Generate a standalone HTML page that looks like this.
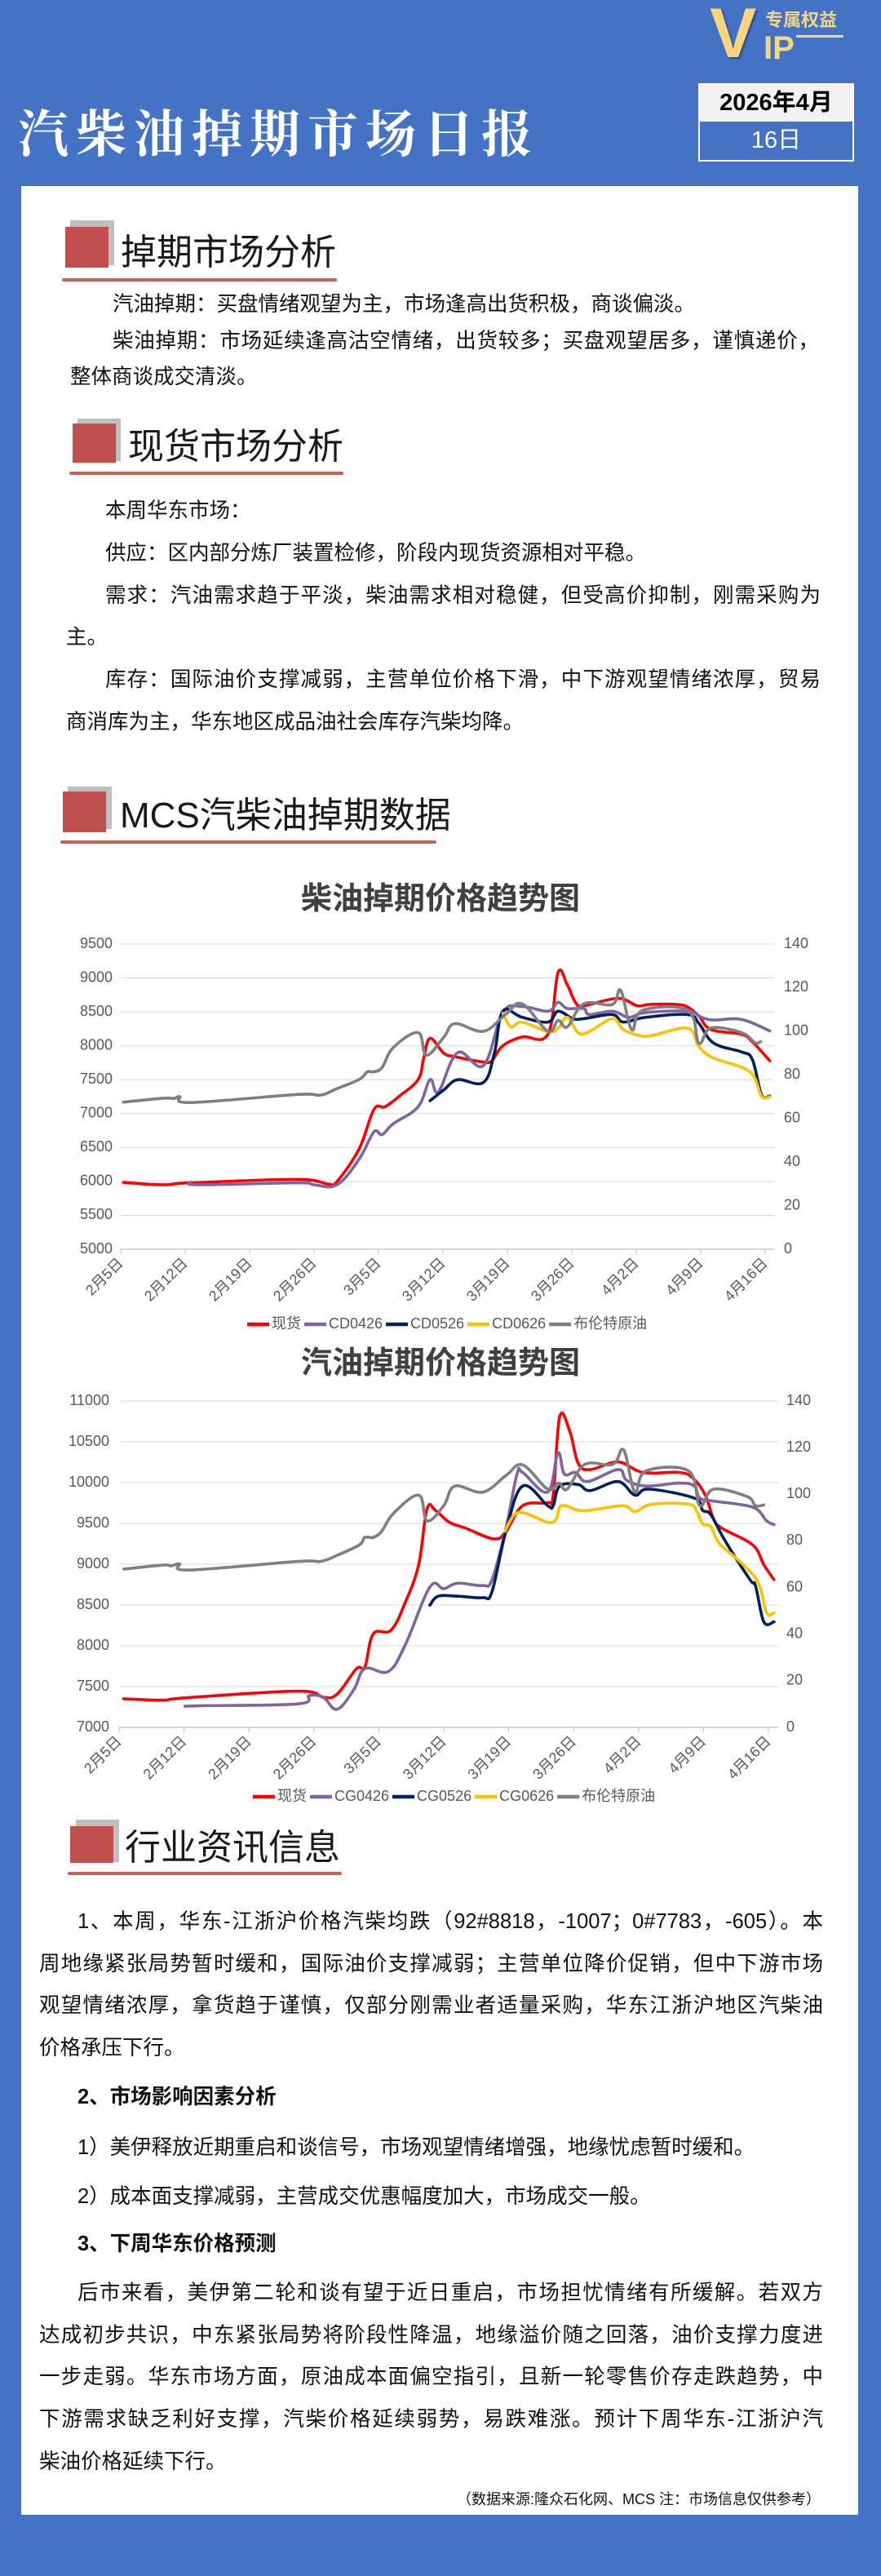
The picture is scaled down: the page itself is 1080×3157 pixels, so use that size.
<!DOCTYPE html>
<html lang="zh">
<head>
<meta charset="utf-8">
<style>
*{margin:0;padding:0;box-sizing:border-box}
body{width:1080px;height:3157px;background:#4472c4;position:relative;overflow:hidden;font-family:"Liberation Sans","Noto Sans CJK SC",sans-serif;color:#111}
.abs{position:absolute}
.panel{left:26px;top:228px;width:1026px;height:2854px;background:#fff}
.ln{position:absolute;font-size:25.5px;line-height:30px;white-space:nowrap;color:#111}
.jl{text-align:justify;text-align-last:justify}
.sqg{position:absolute;background:#bfbfbf}
.sqr{position:absolute;background:#c0504d}
.ul{position:absolute;height:4px;background:#c9605c;border-radius:2px}
.st{position:absolute;font-size:44px;line-height:50px;color:#1a1a1a;white-space:nowrap}
svg text{font-family:"Liberation Sans","Noto Sans CJK SC",sans-serif}
</style>
</head>
<body>
<div class="abs panel"></div>

<!-- header -->
<div class="abs" style="left:22px;top:130px;font-family:'Liberation Serif','Noto Serif CJK SC',serif;font-size:62px;line-height:72px;color:#fff;letter-spacing:9px;font-weight:bold;white-space:nowrap">汽柴油掉期市场日报</div>
<div class="abs" style="left:866px;top:4px;width:180px;height:80px">
  <div class="abs" style="left:4px;top:-6px;font-size:86px;line-height:86px;font-weight:bold;color:#f7d57e;font-family:'Liberation Sans',sans-serif;text-shadow:2px 2px 2px #2a4a8a">V</div>
  <div class="abs" style="left:72px;top:8px;font-size:22px;line-height:26px;font-weight:bold;color:#f7d57e;white-space:nowrap;font-family:'Liberation Sans','Noto Sans CJK SC',sans-serif">专属权益</div>
  <div class="abs" style="left:70px;top:34px;font-size:40px;line-height:42px;font-weight:bold;color:#f7d57e;font-family:'Liberation Sans',sans-serif">IP</div>
  <div class="abs" style="left:110px;top:39px;width:58px;height:3px;background:#f7d57e"></div>
</div>
<div class="abs" style="left:856px;top:102px;width:191px;height:96px;border:2px solid #fff">
  <div class="abs" style="left:0;top:0;width:187px;height:45px;background:#f2f2f2;text-align:center;font-size:29px;line-height:45px;font-weight:bold;color:#000">2026年4月</div>
  <div class="abs" style="left:0;top:45px;width:187px;height:47px;background:#4472c4;text-align:center;font-size:29px;line-height:47px;color:#fff">16日</div>
</div>

<!-- section 1 -->
<div class="sqg" style="left:86px;top:270px;width:54px;height:55px"></div>
<div class="sqr" style="left:80px;top:278px;width:53px;height:50px"></div>
<div class="st" style="left:148px;top:285px">掉期市场分析</div>
<div class="ul" style="left:76px;top:341px;width:337px"></div>
<div class="ln" style="left:138px;top:358px">汽油掉期：买盘情绪观望为主，市场逢高出货积极，商谈偏淡。</div>
<div class="ln jl" style="left:138px;top:403px;width:866px">柴油掉期：市场延续逢高沽空情绪，出货较多；买盘观望居多，谨慎递价，</div>
<div class="ln" style="left:86px;top:447px">整体商谈成交清淡。</div>

<!-- section 2 -->
<div class="sqg" style="left:95px;top:513px;width:53px;height:52px"></div>
<div class="sqr" style="left:89px;top:519px;width:53px;height:48px"></div>
<div class="st" style="left:157px;top:523px">现货市场分析</div>
<div class="ul" style="left:85px;top:578px;width:336px"></div>
<div class="ln" style="left:129px;top:611px">本周华东市场：</div>
<div class="ln" style="left:129px;top:663px">供应：区内部分炼厂装置检修，阶段内现货资源相对平稳。</div>
<div class="ln jl" style="left:129px;top:715px;width:877px">需求：汽油需求趋于平淡，柴油需求相对稳健，但受高价抑制，刚需采购为</div>
<div class="ln" style="left:81px;top:766px">主。</div>
<div class="ln jl" style="left:129px;top:818px;width:877px">库存：国际油价支撑减弱，主营单位价格下滑，中下游观望情绪浓厚，贸易</div>
<div class="ln" style="left:81px;top:870px">商消库为主，华东地区成品油社会库存汽柴均降。</div>

<!-- section 3 -->
<div class="sqg" style="left:83px;top:964px;width:54px;height:52px"></div>
<div class="sqr" style="left:77px;top:970px;width:53px;height:50px"></div>
<div class="st" style="left:147px;top:975px">MCS汽柴油掉期数据</div>
<div class="ul" style="left:74px;top:1030px;width:461px"></div>

<svg id="chart1" class="abs" style="left:0;top:1060px" width="1080" height="580"></svg>
<svg id="chart2" class="abs" style="left:0;top:1640px" width="1080" height="580"></svg>

<!-- section 4 -->
<div class="sqg" style="left:93px;top:2230px;width:53px;height:52px"></div>
<div class="sqr" style="left:86px;top:2238px;width:53px;height:45px"></div>
<div class="st" style="left:153px;top:2240px">行业资讯信息</div>
<div class="ul" style="left:83px;top:2294px;width:336px"></div>
<div class="ln jl" style="left:95px;top:2340px;width:914px">1、本周，华东-江浙沪价格汽柴均跌（92#8818，-1007；0#7783，-605）。本</div>
<div class="ln jl" style="left:48px;top:2392px;width:961px">周地缘紧张局势暂时缓和，国际油价支撑减弱；主营单位降价促销，但中下游市场</div>
<div class="ln jl" style="left:48px;top:2443px;width:961px">观望情绪浓厚，拿货趋于谨慎，仅部分刚需业者适量采购，华东江浙沪地区汽柴油</div>
<div class="ln" style="left:48px;top:2495px">价格承压下行。</div>
<div class="ln" style="left:95px;top:2555px;font-weight:bold">2、市场影响因素分析</div>
<div class="ln" style="left:95px;top:2617px">1）美伊释放近期重启和谈信号，市场观望情绪增强，地缘忧虑暂时缓和。</div>
<div class="ln" style="left:95px;top:2677px">2）成本面支撑减弱，主营成交优惠幅度加大，市场成交一般。</div>
<div class="ln" style="left:95px;top:2735px;font-weight:bold">3、下周华东价格预测</div>
<div class="ln jl" style="left:95px;top:2795px;width:914px">后市来看，美伊第二轮和谈有望于近日重启，市场担忧情绪有所缓解。若双方</div>
<div class="ln jl" style="left:48px;top:2847px;width:961px">达成初步共识，中东紧张局势将阶段性降温，地缘溢价随之回落，油价支撑力度进</div>
<div class="ln jl" style="left:48px;top:2898px;width:961px">一步走弱。华东市场方面，原油成本面偏空指引，且新一轮零售价存走跌趋势，中</div>
<div class="ln jl" style="left:48px;top:2950px;width:961px">下游需求缺乏利好支撑，汽柴价格延续弱势，易跌难涨。预计下周华东-江浙沪汽</div>
<div class="ln" style="left:48px;top:3002px">柴油价格延续下行。</div>
<div class="ln" style="left:560px;top:3051px;width:446px;text-align:right;font-size:18px;line-height:24px">（数据来源:隆众石化网、MCS 注：市场信息仅供参考）</div>

<script>
// ---------- data: x-axis ----------
const tickLabels = ["2月5日","2月12日","2月19日","2月26日","3月5日","3月12日","3月19日","3月26日","4月2日","4月9日","4月16日"];
const tickDays = [0,7,14,21,28,35,42,49,56,63,70];

// ---------- diesel chart data ----------
const dLeftTicks = [5000,5500,6000,6500,7000,7500,8000,8500,9000,9500];
const dRightTicks = [0,20,40,60,80,100,120,140];
const dSeriesNames = ["现货","CD0426","CD0526","CD0626","布伦特原油"];
const dSpotDays = [0.3,4.6,7.6,19.2,22.6,23.5,25.9,27.5,28.7,30.2,32.3,32.9,33.6,35.1,36.3,39.4,40.3,41.5,43.6,46.4,47.5,48.5,49.4,50.3,54.0,56.1,57.4,60.4,61.6,62.8,64.1,67.4,68.6,70.5];
const dSpotVals = [5985,5950,5980,6030,5960,6000,6480,7060,7100,7250,7500,7810,8110,7890,7840,7760,7780,8000,8130,8170,9080,8900,8640,8590,8700,8590,8610,8610,8570,8440,8240,8170,8060,7780];
const d0426Days = [7.6,8.5,19.2,21.0,23.5,25.9,27.5,28.4,29.6,32.3,33.6,34.5,36.6,39.4,41.5,43.6,46.4,47.5,48.5,50.3,50.9,53.4,55.2,57.0,61.6,63.1,64.4,67.4,70.5];
const d0426Vals = [5990,5950,5980,5950,5950,6330,6730,6690,6850,7100,7500,7320,7900,7710,8490,8580,8510,8640,8550,8550,8460,8510,8420,8490,8510,8420,8380,8390,8220];
const d0526Days = [33.6,35.1,36.6,39.4,40.6,41.5,43.6,46.4,47.5,49.1,50.3,53.4,54.6,57.0,61.6,62.8,64.4,67.4,68.6,69.6,70.5];
const d0526Vals = [7190,7350,7500,7460,7900,8510,8420,8350,8510,8400,8400,8460,8350,8420,8460,8330,8040,7910,7800,7280,7260];
const d0626Days = [41.5,42.4,43.6,46.4,47.5,48.5,49.7,50.9,53.4,54.6,56.4,57.7,61.6,62.8,64.4,68.3,69.6,70.5];
const d0626Vals = [8480,8280,8350,8210,8260,8420,8190,8210,8400,8240,8150,8150,8260,7990,7820,7620,7260,7250];
const dBrentDays = [0.3,4.6,5.8,6.4,7.6,19.2,21.7,23.5,25.9,26.8,27.5,28.4,29.6,32.3,33.2,35.1,36.3,39.4,41.8,43.6,46.4,47.5,48.5,50.3,53.4,54.3,55.5,56.7,61.6,62.8,64.1,67.4,68.9,69.5];
const dBrentVals = [67.5,69.3,69.2,70,67.3,71,70.7,73.7,77.9,81.4,81.4,83.4,92.5,99.4,89,97.3,103.5,100,107.7,112.6,100,105,102,112.6,112.3,118.8,100.7,109.6,109.6,94.5,101.5,99.4,94.8,95.2];

// ---------- gasoline chart data ----------
const gLeftTicks = [7000,7500,8000,8500,9000,9500,10000,10500,11000];
const gRightTicks = [0,20,40,60,80,100,120,140];
const gSeriesNames = ["现货","CG0426","CG0526","CG0626","布伦特原油"];
const gSpotDays = [0.5,4.7,7.1,19.3,22.0,23.5,25.6,26.5,27.4,29.3,30.8,32.3,33.2,34.1,35.6,37.4,40.4,41.7,43.5,46.2,46.8,47.5,48.6,49.5,50.8,53.8,56.5,60.4,61.9,63.2,64.1,65.0,68.3,69.5,70.6];
const gSpotVals = [7351,7333,7362,7444,7370,7407,7720,7740,8146,8190,8516,8996,9680,9660,9514,9440,9310,9400,9717,9754,9846,10808,10623,10235,10160,10253,10124,10124,10050,9846,9550,9440,9237,8996,8811];
const g0426Days = [7.1,9.0,19.3,20.5,22.0,23.5,25.3,26.5,29.0,30.8,33.5,35.0,36.5,39.2,40.2,41.7,42.9,43.5,46.2,47.3,48.0,49.2,50.5,53.8,54.7,56.8,60.4,62.0,62.6,64.1,68.3,69.8,70.6];
const g0426Vals = [7259,7266,7288,7388,7370,7222,7462,7721,7684,7998,8719,8700,8767,8738,8811,9440,10105,10124,9884,10364,10105,10124,10013,10161,10031,9958,9994,9958,9810,9773,9699,9532,9484];
const g0526Days = [33.5,34.4,36.5,39.2,40.2,41.7,43.5,46.2,46.8,47.5,49.5,50.8,53.8,55.6,57.1,62.0,62.9,63.8,65.3,68.0,68.6,69.5,70.6];
const g0526Vals = [8497,8608,8608,8590,8663,9403,9958,9717,9717,9958,9976,9902,10013,9846,9920,9810,9662,9606,9292,8811,8737,8294,8294];
const g0626Days = [41.6,42.6,43.8,46.2,47.1,47.7,49.5,50.8,54.4,55.6,57.4,61.4,62.3,62.9,63.8,64.7,67.1,68.9,69.8,70.6];
const g0626Vals = [9403,9606,9625,9514,9551,9717,9662,9662,9717,9643,9735,9735,9643,9495,9459,9255,9015,8774,8405,8405];
const gBrentDays = [0.5,4.7,5.6,6.5,7.5,19.3,21.7,23.5,25.9,26.5,27.4,28.3,29.6,32.3,33.2,35.0,36.2,39.2,41.7,43.5,46.2,47.4,48.3,50.2,53.2,54.4,55.6,56.8,61.4,62.6,64.1,67.7,68.6,69.5];
const gBrentVals = [67.9,69.6,69.3,70.1,67.5,71.2,71.2,73.8,78.3,81.5,81.5,84.1,91.9,99.6,88.6,95.1,103.5,100.9,108,112.6,102.2,104.8,102.2,112.8,112.8,119,100.9,110,110,95.1,102.2,99,95.1,95.4];

const NS = "http://www.w3.org/2000/svg";
const COLORS = ["#ff0000","#8064a2","#002060","#ffc000","#7f7f7f"];

function mk(svg, tag, attrs, txt){
  const e = document.createElementNS(NS, tag);
  for (const k in attrs) e.setAttribute(k, attrs[k]);
  if (txt !== undefined) e.textContent = txt;
  svg.appendChild(e);
  return e;
}

function smoothPath(pts){
  if (pts.length < 2) return "";
  let d = "M" + pts[0][0].toFixed(1) + "," + pts[0][1].toFixed(1);
  for (let i = 0; i < pts.length - 1; i++){
    const p0 = pts[i-1] || pts[i], p1 = pts[i], p2 = pts[i+1], p3 = pts[i+2] || p2;
    const t = 0.18;
    const c1x = p1[0] + (p2[0]-p0[0])*t, c1y = p1[1] + (p2[1]-p0[1])*t;
    const c2x = p2[0] - (p3[0]-p1[0])*t, c2y = p2[1] - (p3[1]-p1[1])*t;
    d += " C" + c1x.toFixed(1)+","+c1y.toFixed(1)+" "+c2x.toFixed(1)+","+c2y.toFixed(1)+" "+p2[0].toFixed(1)+","+p2[1].toFixed(1);
  }
  return d;
}

function drawChart(svg, cfg){
  const xS = d => cfg.x0 + (cfg.x1 - cfg.x0) * d / 70;
  const yL = v => cfg.yBot - (cfg.yBot - cfg.yTop) * (v - cfg.lMin) / (cfg.lMax - cfg.lMin);
  const yR = v => cfg.yBot - (cfg.yBot - cfg.yTop) * v / 140;

  const title = mk(svg, "text", {x:540, y:cfg.titleY, "text-anchor":"middle", "dominant-baseline":"middle", "font-size":"38", "font-weight":"bold", fill:"#404040"}, cfg.title);
  
  

  cfg.leftTicks.forEach(v => {
    const y = yL(v);
    const g = mk(svg, "line", {x1:cfg.x0, x2:cfg.gridR, y1:y, y2:y, stroke:"#d9d9d9", "stroke-width":1});
    
    
    const t = mk(svg, "text", {x:cfg.lLabX, y:y, "text-anchor":"end", "dominant-baseline":"middle", "font-size":"18", fill:"#595959"}, String(v));
    
    
  });
  cfg.rightTicks.forEach(v => {
    const t = mk(svg, "text", {x:cfg.rLabX, y:yR(v), "text-anchor":"start", "dominant-baseline":"middle", "font-size":"18", fill:"#595959"}, String(v));
    
    
  });
  const ax = mk(svg, "line", {x1:cfg.x0, x2:cfg.gridR, y1:cfg.yBot, y2:cfg.yBot, stroke:"#bfbfbf", "stroke-width":1.2});
  
  
  tickDays.forEach((d, i) => {
    const x = xS(d);
    mk(svg, "line", {x1:x, x2:x, y1:cfg.yBot, y2:cfg.yBot+6, stroke:"#bfbfbf", "stroke-width":1});
    const t = mk(svg, "text", {x:x+4, y:cfg.yBot+18, "text-anchor":"end", "font-size":"18", fill:"#595959", transform:"rotate(-45 "+(x+4)+" "+(cfg.yBot+18)+")"}, tickLabels[i]);
    
    
  });

  cfg.series.forEach((s, i) => {
    const pts = s.days.map((d, j) => [xS(d), s.right ? yR(s.vals[j]) : yL(s.vals[j])]);
    const p = mk(svg, "path", {d:smoothPath(pts), fill:"none", stroke:COLORS[i], "stroke-width":3.6, "stroke-linejoin":"round", "stroke-linecap":"round"});
    
    
  });

  // legend
  let lx = cfg.legX;
  cfg.names.forEach((n, i) => {
    const l = mk(svg, "line", {x1:lx, x2:lx+27, y1:cfg.legY, y2:cfg.legY, stroke:COLORS[i], "stroke-width":4.5});
    
    
    const t = mk(svg, "text", {x:lx+30, y:cfg.legY, "dominant-baseline":"middle", "font-size":"18", fill:"#595959"}, n);
    
    
    lx += 30 + t.getComputedTextLength() + 4;
  });
}

drawChart(document.getElementById("chart1"), {
  title:"柴油掉期价格趋势图", titleY:44,
  x0:148, x1:938, gridR:949, yTop:97, yBot:471, lMin:5000, lMax:9500,
  lLabX:138, rLabX:961, leftTicks:dLeftTicks, rightTicks:dRightTicks,
  legX:303, legY:563, names:dSeriesNames,
  series:[
    {key:"spot", days:dSpotDays, vals:dSpotVals},
    {key:"cd0426", days:d0426Days, vals:d0426Vals},
    {key:"cd0526", days:d0526Days, vals:d0526Vals},
    {key:"cd0626", days:d0626Days, vals:d0626Vals},
    {key:"brent", days:dBrentDays, vals:dBrentVals, right:true}
  ]
});
drawChart(document.getElementById("chart2"), {
  title:"汽油掉期价格趋势图", titleY:33,
  x0:146, x1:942, gridR:954, yTop:77, yBot:477, lMin:7000, lMax:11000,
  lLabX:134, rLabX:964, leftTicks:gLeftTicks, rightTicks:gRightTicks,
  legX:310, legY:562, names:gSeriesNames,
  series:[
    {key:"spot", days:gSpotDays, vals:gSpotVals},
    {key:"cg0426", days:g0426Days, vals:g0426Vals},
    {key:"cg0526", days:g0526Days, vals:g0526Vals},
    {key:"cg0626", days:g0626Days, vals:g0626Vals},
    {key:"brent", days:gBrentDays, vals:gBrentVals, right:true}
  ]
});
</script>
</body>
</html>
